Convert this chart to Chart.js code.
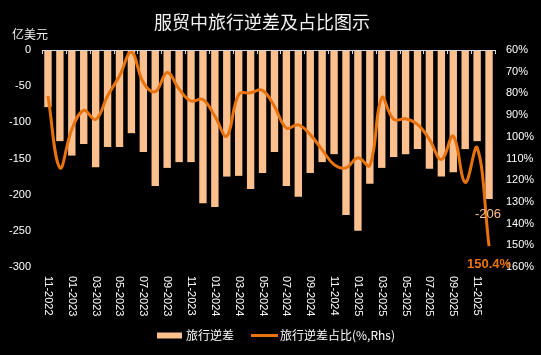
<!DOCTYPE html>
<html>
<head>
<meta charset="utf-8">
<script src="https://cdn.jsdelivr.net/npm/chart.js@4/dist/chart.umd.min.js"></script>
<style>
html,body{margin:0;padding:0;background:#000;overflow:hidden;}
canvas{display:block;}
</style>
</head>
<body>
<canvas id="c" width="541" height="355"></canvas>
<script>
const months = ["11-2022","12-2022","01-2023","02-2023","03-2023","04-2023","05-2023","06-2023","07-2023","08-2023","09-2023","10-2023","11-2023","12-2023","01-2024","02-2024","03-2024","04-2024","05-2024","06-2024","07-2024","08-2024","09-2024","10-2024","11-2024","12-2024","01-2025","02-2025","03-2025","04-2025","05-2025","06-2025","07-2025","08-2025","09-2025","10-2025","11-2025","12-2025"];
const deficit = [-79,-126,-146,-130,-162,-134,-134,-115,-141,-188,-163,-155,-155,-212,-217,-175,-174,-192,-170,-141,-188,-203,-170,-155,-144,-228,-250,-185,-163,-148,-144,-137,-164,-175,-169,-137,-126,-206];
const ratio = [81.2,114.3,96.6,87.8,92,81.2,72,61,75,79.2,70.4,78,83.5,82.8,90.5,99.7,80.5,79.7,78.6,86,96,94.5,99,106,112.8,114.3,109.7,113.2,82,92,91.7,94.3,101.2,110.5,99.7,121,105,150.4];
const leftTicks = {min:-300, max:0, step:50};
const rightTicks = {min:60, max:160, step:10};
const titleText = "服贸中旅行逆差及占比图示";
const unitText = "亿美元";
const seriesNames = ["旅行逆差","旅行逆差占比(%,Rhs)"];

const BAR = "#FBC08E", LINE = "#E8720C", TXT = "#FFFFFF";
const NUMFONT = "11px 'Liberation Sans', Arial, sans-serif";
const CJK = "'Noto Sans CJK SC', sans-serif";

const extras = {
  id:'extras',
  afterDraw(chart){
    const ctx = chart.ctx, xs = chart.scales.x, ys = chart.scales.y, ca = chart.chartArea;
    ctx.save();
    // title & unit
    ctx.fillStyle = "#F2F2F2";
    ctx.font = "18px " + CJK;
    ctx.textAlign = "center"; ctx.textBaseline = "middle";
    ctx.fillText(titleText, 262, 22);
    ctx.font = "12px " + CJK;
    ctx.textAlign = "left";
    ctx.fillText(unitText, 12, 34);
    // category axis line at zero
    const y0 = ys.getPixelForValue(0);
    const cw = (xs.getPixelForValue(1) - xs.getPixelForValue(0));
    ctx.strokeStyle = "#D9D9D9"; ctx.lineWidth = 1;
    ctx.beginPath(); ctx.moveTo(ca.left, y0+0.5); ctx.lineTo(ca.right, y0+0.5); ctx.stroke();
    for (let i = 0; i <= months.length; i += 2) {
      const x = Math.round(xs.getPixelForValue(i) - cw/2) + 0.5;
      ctx.beginPath(); ctx.moveTo(x, y0); ctx.lineTo(x, y0+4); ctx.stroke();
    }
    // rotated x labels
    ctx.fillStyle = TXT; ctx.font = NUMFONT;
    ctx.textAlign = "left"; ctx.textBaseline = "middle";
    for (let i = 0; i < months.length; i += 2) {
      const x = xs.getPixelForValue(i);
      ctx.save(); ctx.translate(x, 276); ctx.rotate(Math.PI/2);
      ctx.fillText(months[i], 0, 0); ctx.restore();
    }
    // data labels for last point
    const n = months.length - 1;
    const bm = chart.getDatasetMeta(0).data[n];
    const lm = chart.getDatasetMeta(1).data[n];
    ctx.textAlign = "center";
    ctx.font = "13px 'Liberation Sans', Arial, sans-serif";
    ctx.fillStyle = BAR;
    ctx.fillText(String(deficit[n]), bm.x - 1, bm.y + 15);
    ctx.font = "bold 13px 'Liberation Sans', Arial, sans-serif";
    ctx.fillStyle = LINE;
    ctx.fillText(ratio[n].toFixed(1) + "%", lm.x, lm.y + 18);
    // legend
    const ly = 335.5;
    ctx.fillStyle = BAR; ctx.fillRect(157, ly-3, 25, 6);
    ctx.fillStyle = TXT; ctx.font = "12px " + CJK; ctx.textAlign = "left";
    ctx.fillText(seriesNames[0], 186, ly);
    ctx.strokeStyle = LINE; ctx.lineWidth = 3;
    ctx.beginPath(); ctx.moveTo(251, ly); ctx.lineTo(278, ly); ctx.stroke();
    ctx.fillStyle = TXT;
    ctx.fillText(seriesNames[1], 280, ly);
    ctx.restore();
  }
};

new Chart(document.getElementById('c'), {
  data: {
    labels: months,
    datasets: [
      {type:'bar', label:seriesNames[0], data:deficit, backgroundColor:BAR, yAxisID:'y',
       categoryPercentage:1, barPercentage:0.62, order:2},
      {type:'line', label:seriesNames[1], data:ratio, borderColor:LINE, backgroundColor:LINE,
       borderWidth:3, pointRadius:0, tension:0.4, yAxisID:'y1', order:1}
    ]
  },
  options: {
    responsive:false, animation:false, devicePixelRatio:1,
    layout:{padding:{top:50,left:0,right:0,bottom:0}},
    plugins:{legend:{display:false}, title:{display:false}, tooltip:{enabled:false}},
    scales:{
      x:{grid:{display:false,drawTicks:false}, border:{display:false}, ticks:{display:false},
         afterFit(s){ s.height = 88; }},
      y:{position:'left', min:leftTicks.min, max:leftTicks.max,
         grid:{display:false,drawTicks:false}, border:{display:false},
         ticks:{stepSize:leftTicks.step, color:TXT, font:{family:"'Liberation Sans', Arial, sans-serif", size:11}, padding:11},
         afterFit(s){ s.width = 42; }},
      y1:{position:'right', reverse:true, min:rightTicks.min, max:rightTicks.max,
         grid:{display:false,drawTicks:false}, border:{display:false},
         ticks:{stepSize:rightTicks.step, color:TXT, font:{family:"'Liberation Sans', Arial, sans-serif", size:11}, padding:11,
                callback:v=>v+'%'},
         afterFit(s){ s.width = 46; }}
    }
  },
  plugins:[extras]
});
</script>
</body>
</html>
